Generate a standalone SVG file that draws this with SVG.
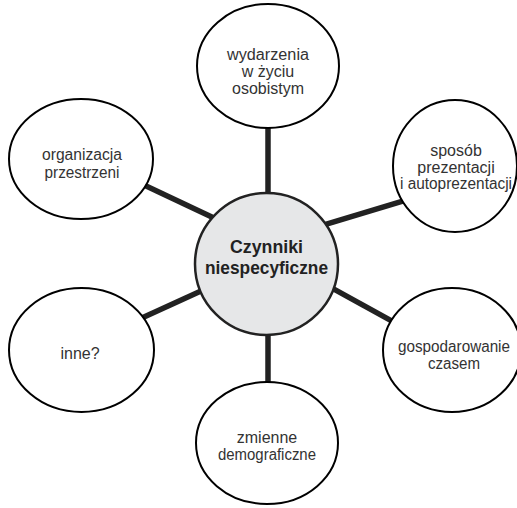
<svg xmlns="http://www.w3.org/2000/svg" width="517" height="508" viewBox="0 0 517 508">
<style>
.sat{fill:#fff;stroke:#000;stroke-width:2}
.ctr{fill:#e6e7e8;stroke:#222;stroke-width:2.5}
.con line{stroke:#222;stroke-width:5.5}
text{font-family:"Liberation Sans",Arial,sans-serif;text-anchor:middle}
.t{font-size:16px;fill:#333}
.c{font-size:19px;font-weight:bold;fill:#222}
</style>
<rect width="517" height="508" fill="#fff"/>
<g id="connectors" class="con">
<line x1="268" y1="120" x2="268" y2="200"/>
<line x1="140.8" y1="183.6" x2="215" y2="218.4"/>
<line x1="407.7" y1="199.7" x2="322.3" y2="225.3"/>
<line x1="134.7" y1="321.3" x2="210.3" y2="286.7"/>
<line x1="323" y1="283.1" x2="397" y2="323.9"/>
<line x1="268" y1="330" x2="268" y2="390"/>
</g>
<g id="center">
<ellipse class="ctr" cx="266.5" cy="264" rx="71.5" ry="71"/>
<text class="c" x="266.5" y="253" textLength="73" lengthAdjust="spacingAndGlyphs">Czynniki</text>
<text class="c" x="266.5" y="273.5" textLength="123" lengthAdjust="spacingAndGlyphs">niespecyficzne</text>
</g>
<g id="n-wydarzenia">
<ellipse class="sat" cx="268" cy="66" rx="71" ry="62"/>
<text class="t" x="268" y="60" textLength="82" lengthAdjust="spacingAndGlyphs">wydarzenia</text>
<text class="t" x="268" y="77">w życiu</text>
<text class="t" x="268" y="94">osobistym</text>
</g>
<g id="n-sposob">
<ellipse class="sat" cx="455" cy="166" rx="62" ry="66"/>
<text class="t" x="456" y="156">sposób</text>
<text class="t" x="456" y="172.5">prezentacji</text>
<text class="t" x="456" y="189" textLength="112" lengthAdjust="spacingAndGlyphs">i autoprezentacji</text>
</g>
<g id="n-organizacja">
<ellipse class="sat" cx="81" cy="159" rx="72" ry="60"/>
<text class="t" x="82" y="160" textLength="80" lengthAdjust="spacingAndGlyphs">organizacja</text>
<text class="t" x="82" y="178" textLength="75" lengthAdjust="spacingAndGlyphs">przestrzeni</text>
</g>
<g id="n-inne">
<ellipse class="sat" cx="81.5" cy="350" rx="72.5" ry="62"/>
<text class="t" x="80" y="359">inne?</text>
</g>
<g id="n-gospodarowanie">
<ellipse class="sat" cx="452" cy="350" rx="69" ry="62"/>
<text class="t" x="454" y="352" textLength="112" lengthAdjust="spacingAndGlyphs">gospodarowanie</text>
<text class="t" x="454" y="368.5" textLength="52" lengthAdjust="spacingAndGlyphs">czasem</text>
</g>
<g id="n-zmienne">
<ellipse class="sat" cx="267" cy="443" rx="71" ry="61"/>
<text class="t" x="267" y="443">zmienne</text>
<text class="t" x="267" y="460" textLength="98" lengthAdjust="spacingAndGlyphs">demograficzne</text>
</g>
</svg>
